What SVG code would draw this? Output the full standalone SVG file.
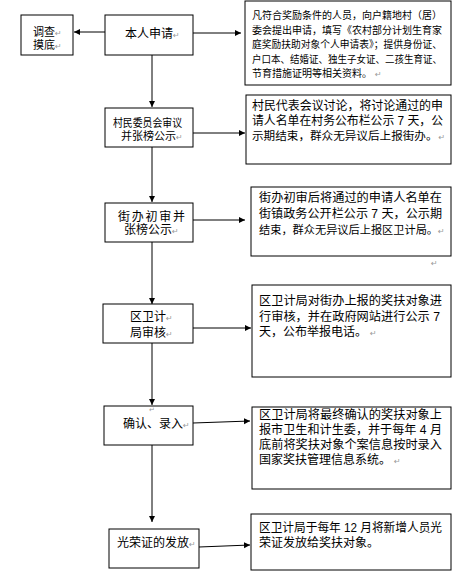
<svg xmlns="http://www.w3.org/2000/svg" width="476" height="583" viewBox="0 0 476 583">
<style>
  .box{fill:#fff;stroke:#000;stroke-width:1}
  .t{font-family:"Liberation Sans","Noto Sans CJK SC",sans-serif;font-size:12px;fill:#000}
  .s{font-size:11px}
  .xs{font-size:10px}
  .rm{font-family:"DejaVu Sans","Liberation Sans",sans-serif;font-size:8px;fill:#999}
  .ln{stroke:#000;stroke-width:1;fill:none}
</style>
<defs>
  <marker id="ah" markerUnits="userSpaceOnUse" markerWidth="7" markerHeight="7" refX="6" refY="3" orient="auto">
    <path d="M0,0 L6,3 L0,6 Z" fill="#000"/>
  </marker>
</defs>
<rect width="476" height="583" fill="#fff"/>

<g id="connectors">
  <line class="ln" x1="105" y1="32" x2="74" y2="32" stroke-width="1.5" stroke="#333" marker-end="url(#ah)"/>
  <line class="ln" x1="193" y1="33" x2="241" y2="33" marker-end="url(#ah)"/>
  <line class="ln" x1="152" y1="55" x2="152" y2="107" marker-end="url(#ah)"/>
  <line class="ln" x1="193" y1="133" x2="245" y2="133" marker-end="url(#ah)"/>
  <line class="ln" x1="152" y1="147" x2="152" y2="202" marker-end="url(#ah)"/>
  <line class="ln" x1="193" y1="220" x2="245" y2="220" marker-end="url(#ah)"/>
  <line class="ln" x1="152" y1="242" x2="152" y2="304" marker-end="url(#ah)"/>
  <line class="ln" x1="193" y1="328" x2="251" y2="328" marker-end="url(#ah)"/>
  <line class="ln" x1="152" y1="343" x2="152" y2="405" marker-end="url(#ah)"/>
  <line class="ln" x1="193" y1="423" x2="250" y2="421" marker-end="url(#ah)"/>
  <line class="ln" x1="152" y1="445" x2="152" y2="522" marker-end="url(#ah)"/>
  <line class="ln" x1="199" y1="547" x2="250" y2="545" marker-end="url(#ah)"/>
</g>

<g id="n_survey">
  <rect class="box" x="21" y="15" width="52" height="40"/>
  <text class="t s" x="33" y="36">调查<tspan class="rm">↵</tspan></text>
  <text class="t s" x="33" y="49">摸底<tspan class="rm">↵</tspan></text>
</g>

<g id="n_apply">
  <rect class="box" x="105" y="15" width="88" height="40"/>
  <text class="t" x="125" y="37.5">本人申请<tspan class="rm">↵</tspan></text>
</g>

<g id="d_apply">
  <rect class="box" x="245" y="1" width="206" height="84" stroke-width="1.3"/>
  <text class="t xs" x="252" y="19">凡符合奖励条件的人员，向户籍地村（居）</text>
  <text class="t xs" x="252" y="33.5">委会提出申请，填写《农村部分计划生育家</text>
  <text class="t xs" x="252" y="48" textLength="190" lengthAdjust="spacingAndGlyphs">庭奖励扶助对象个人申请表》；提供身份证、</text>
  <text class="t xs" x="252" y="62.5" textLength="190" lengthAdjust="spacingAndGlyphs">户口本、结婚证、独生子女证、二孩生育证、</text>
  <text class="t xs" x="252" y="77">节育措施证明等相关资料。<tspan class="rm" dx="3">↵</tspan></text>
</g>

<g id="n_village">
  <rect class="box" x="105" y="108" width="88" height="39"/>
  <text class="t s" x="113" y="126.5" textLength="69" lengthAdjust="spacingAndGlyphs">村民委员会审议</text>
  <text class="t s" x="121" y="139.5">并张榜公示<tspan class="rm">↵</tspan></text>
</g>

<g id="d_village">
  <rect class="box" x="246" y="95" width="205" height="69"/>
  <text class="t" x="252" y="109.5" textLength="191" lengthAdjust="spacingAndGlyphs">村民代表会议讨论，将讨论通过的申</text>
  <text class="t" x="252" y="124.5" textLength="191" lengthAdjust="spacingAndGlyphs">请人名单在村务公布栏公示 7 天，公</text>
  <text class="t" x="252" y="139.5" style="font-size:11.6px">示期结束，群众无异议后上报街办。<tspan class="rm" dx="1">↵</tspan></text>
</g>

<g id="n_street">
  <rect class="box" x="105" y="203" width="88" height="39"/>
  <text class="t" x="118" y="220.5" textLength="67" lengthAdjust="spacing">街 办 初 审 并</text>
  <text class="t" x="124" y="233.5">张榜公示<tspan class="rm">↵</tspan></text>
</g>

<g id="d_street">
  <rect class="box" x="251" y="187" width="200" height="69"/>
  <text class="t" x="259" y="201.5" textLength="183" lengthAdjust="spacingAndGlyphs">街办初审后将通过的申请人名单在</text>
  <text class="t" x="259" y="217.5" textLength="183" lengthAdjust="spacingAndGlyphs">街镇政务公开栏公示 7 天，公示期</text>
  <text class="t" x="259" y="233.5" style="font-size:11.2px">结束，群众无异议后上报区卫计局。<tspan class="rm">↵</tspan></text>
  <text class="rm" x="431" y="266">↵</text>
</g>

<g id="n_district">
  <rect class="box" x="103" y="304" width="90" height="39"/>
  <text class="t" x="130" y="320.5">区卫计<tspan class="rm">↵</tspan></text>
  <text class="t" x="130" y="336.5">局审核<tspan class="rm">↵</tspan></text>
</g>

<g id="d_district">
  <rect class="box" x="252" y="285" width="199" height="92"/>
  <text class="t" x="259" y="304.5" textLength="183" lengthAdjust="spacingAndGlyphs">区卫计局对街办上报的奖扶对象进</text>
  <text class="t" x="259" y="320.5" textLength="181" lengthAdjust="spacingAndGlyphs">行审核，并在政府网站进行公示 7</text>
  <text class="t" x="259" y="335.5">天，公布举报电话。<tspan class="rm" dx="3">↵</tspan></text>
</g>

<g id="n_confirm">
  <rect class="box" x="104" y="406" width="89" height="39"/>
  <text class="rm" x="149" y="411.5" style="font-size:7px">↵</text>
  <text class="t" x="123" y="428">确认、录入<tspan class="rm">↵</tspan></text>
</g>

<g id="d_confirm">
  <rect class="box" x="252" y="407" width="199" height="82"/>
  <text class="t" x="259" y="418.5" textLength="183" lengthAdjust="spacingAndGlyphs">区卫计局将最终确认的奖扶对象上</text>
  <text class="t" x="259" y="433.5" textLength="183" lengthAdjust="spacingAndGlyphs">报市卫生和计生委，并于每年 4 月</text>
  <text class="t" x="259" y="448.5" textLength="183" lengthAdjust="spacingAndGlyphs">底前将奖扶对象个案信息按时录入</text>
  <text class="t" x="259" y="463.5">国家奖扶管理信息系统。<tspan class="rm" dx="3">↵</tspan></text>
</g>

<g id="n_issue">
  <rect class="box" x="109" y="529" width="90" height="39"/>
  <text class="t" x="117" y="546.5">光荣证的发放<tspan class="rm">↵</tspan></text>
</g>

<g id="d_issue">
  <rect class="box" x="251" y="514" width="200" height="56"/>
  <text class="t" x="259" y="531.5" textLength="183" lengthAdjust="spacingAndGlyphs">区卫计局于每年 12 月将新增人员光</text>
  <text class="t" x="259" y="546.5">荣证发放给奖扶对象。</text>
</g>
</svg>
